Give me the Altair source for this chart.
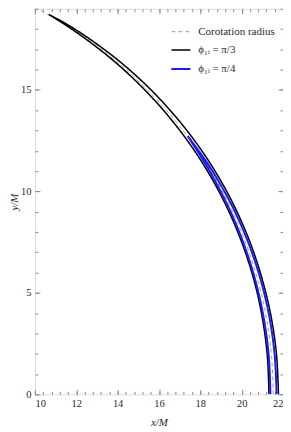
import altair as alt
import numpy as np
import pandas as pd

# ---- data ----
x_domain = [10, 22]
y_domain = [0, 19]
x_major = [10, 12, 14, 16, 18, 20, 22]
x_minor = [round(10 + 0.4 * i, 1) for i in range(31)]
y_major = [0, 5, 10, 15]
y_minor = list(range(0, 20))

series_names = ["Corotation radius", "ϕ₁ᵢ = π/3", "ϕ₁ᵢ = π/4"]
series_colors = ["#a0a0a0", "#000000", "#1a1aff"]
series_dash = [[4, 3], [1, 0], [1, 0]]
series_width = [1.0, 2.0, 1.5]

corotation_radius = 21.53
corotation_theta = [0, 5, 10, 15, 20, 25, 30, 35, 40, 45, 50, 55, 60, 65]

black_theta = [0, 5, 10, 15, 20, 25, 30, 35, 40, 45, 50, 55, 58, 60.3]
black_r_in = [21.32, 21.325, 21.335, 21.35, 21.36, 21.375, 21.39, 21.405, 21.42, 21.44, 21.465, 21.495, 21.52, 21.55]
black_r_out = [21.78, 21.775, 21.765, 21.75, 21.74, 21.725, 21.71, 21.69, 21.67, 21.65, 21.625, 21.60, 21.58, 21.55]

blue_theta = [0, 5, 10, 15, 20, 25, 30, 33, 36.2]
blue_r_in = [21.39, 21.395, 21.40, 21.41, 21.425, 21.445, 21.475, 21.50, 21.55]
blue_r_out = [21.69, 21.685, 21.68, 21.67, 21.655, 21.635, 21.605, 21.58, 21.55]


def polar_path(theta, radii, name):
    rows = []
    for i, (t, r) in enumerate(zip(theta, radii)):
        a = np.radians(t)
        rows.append({"x": r * np.cos(a), "y": r * np.sin(a), "i": i, "series": name})
    return pd.DataFrame(rows)


def band(theta, r_in, r_out, name):
    th = list(theta) + list(theta[::-1])
    rr = list(r_in) + list(r_out[::-1])
    return polar_path(th, rr, name)


corot_df = polar_path(corotation_theta, [corotation_radius] * len(corotation_theta), series_names[0])
black_df = band(black_theta, black_r_in, black_r_out, series_names[1])
blue_df = band(blue_theta, blue_r_in, blue_r_out, series_names[2])

FONT = "Liberation Serif"
FRAME = "#8c8c8c"
TXT = "#2a2a2a"

legend = alt.Legend(
    title=None, orient="none", legendX=136, legendY=13,
    symbolType="stroke", symbolSize=361, labelFont=FONT, labelFontSize=11,
    labelColor=TXT, rowPadding=3, labelOffset=7, padding=0,
)
color = alt.Color("series:N", scale=alt.Scale(domain=series_names, range=series_colors), legend=legend)
dash = alt.StrokeDash("series:N", scale=alt.Scale(domain=series_names, range=series_dash), legend=legend)
width = alt.StrokeWidth("series:N", scale=alt.Scale(domain=series_names, range=series_width), legend=legend)

xs = alt.Scale(domain=x_domain, nice=False, zero=False)
ys = alt.Scale(domain=y_domain, nice=False, zero=False)


def axis(orient, values, size, labels=False, title=None, title_pad=8):
    kw = dict(orient=orient, values=values, tickSize=size, offset=-size, domain=False,
              grid=False, ticks=True, tickColor=FRAME, tickWidth=1, labels=labels,
              title=title)
    if labels:
        kw.update(labelFont=FONT, labelFontSize=10.5, labelColor=TXT, labelPadding=4)
    if title:
        kw.update(titleFont=FONT, titleFontSize=11, titleFontStyle="italic",
                  titleFontWeight="normal", titleColor=TXT, titlePadding=title_pad)
    return alt.Axis(**kw)


def layer(df, xaxis, yaxis, opacity=1.0):
    return alt.Chart(df).mark_line(clip=True, opacity=opacity, interpolate="catmull-rom").encode(
        x=alt.X("x:Q", scale=xs, axis=xaxis),
        y=alt.Y("y:Q", scale=ys, axis=yaxis),
        order="i:Q",
        color=color,
        strokeDash=dash,
        strokeWidth=width,
    )


l1 = layer(corot_df, axis("bottom", x_major, 5, labels=True, title="x/M", title_pad=8),
           axis("left", y_major, 5, labels=True, title="y/M", title_pad=1))
l2 = layer(black_df, axis("bottom", x_minor, 3), axis("left", y_minor, 3))
l3 = layer(blue_df, axis("top", x_major, 5), axis("right", y_major, 5))
l4 = layer(blue_df, axis("top", x_minor, 3), axis("right", y_minor, 3), opacity=0)

chart = (
    alt.layer(l1, l2, l3, l4)
    .resolve_axis(x="independent", y="independent")
    .properties(
        width=249, height=387,
        autosize=alt.AutoSizeParams(type="none"),
        padding={"left": 27, "top": 0, "right": 0, "bottom": 32},
    )
    .configure_view(stroke=FRAME, strokeWidth=1)
    .configure(background="white")
)

chart.save("out.html", embed_options={"renderer": "svg", "actions": False})
